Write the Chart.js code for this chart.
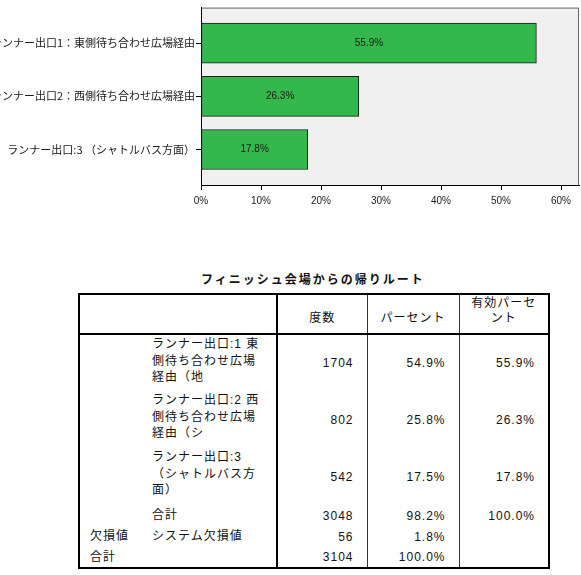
<!DOCTYPE html>
<html>
<head>
<meta charset="utf-8">
<script src="https://cdn.jsdelivr.net/npm/chart.js@4/dist/chart.umd.min.js"></script>
<style>
  body { margin: 0; background: #fff; width: 581px; height: 575px; position: relative; overflow: hidden; }
  #chartBox { position: absolute; left: 0; top: 0; width: 581px; height: 215px; }
  #title { position: absolute; left: 78px; top: 270px; width: 470px; text-align: center;
    font: bold 12px "Liberation Sans", "Noto Sans CJK JP", sans-serif; letter-spacing: 2px; color: #111; }
  table { position: absolute; left: 78px; top: 293px; border-collapse: collapse; table-layout: fixed;
    font: 12px "Liberation Sans", "Noto Sans CJK JP", sans-serif; letter-spacing: 1px; color: #111;
    border: 2px solid #000; }
  td, th { padding: 0; font-weight: normal; box-sizing: border-box; }
  th { vertical-align: bottom; text-align: center; padding-bottom: 7px; line-height: 15px; }
  .head th { height: 40px; border-bottom: 2px solid #000; }
  .sep { border-right: 2px solid #000; }
  .thin { border-right: 1px solid #333; }
  td.lab { vertical-align: top; padding-left: 6px; padding-top: 1px; line-height: 16.5px; }
  td.grp { vertical-align: top; padding-left: 10px; padding-top: 1px; line-height: 16.5px; }
  td.num { text-align: right; padding-right: 13px; vertical-align: middle; }
  tr.big td { height: 57px; }
  tr.small td { height: 21px; padding-top: 0; line-height: 20px; }
</style>
</head>
<body>
<div id="chartBox"><canvas id="myChart"></canvas></div>
<div id="title"></div>
<table id="freq"></table>
<script>
// chart data
const categories = [
  'ランナー出口1：東側待ち合わせ広場経由',
  'ランナー出口2：西側待ち合わせ広場経由',
  'ランナー出口:3 （シャトルバス方面）'
];
const validPercent = [55.9, 26.3, 17.8];
const xTicks = [0, 10, 20, 30, 40, 50, 60];

// table data
const tableTitle = 'フィニッシュ会場からの帰りルート';
const headers = ['度数', 'パーセント', '有効パーセ<br>ント'];
const groupLabels = ['', '', '', '', '欠損値', '合計'];
const rowLabels = [
  'ランナー出口:1 東<br>側待ち合わせ広場<br>経由（地',
  'ランナー出口:2 西<br>側待ち合わせ広場<br>経由（シ',
  'ランナー出口:3<br>（シャトルバス方<br>面）',
  '合計',
  'システム欠損値',
  ''
];
const counts = ['1704', '802', '542', '3048', '56', '3104'];
const percents = ['54.9%', '25.8%', '17.5%', '98.2%', '1.8%', '100.0%'];
const validPercents = ['55.9%', '26.3%', '17.8%', '100.0%', '', ''];

// build table
document.getElementById('title').textContent = tableTitle;
let html = '<colgroup><col style="width:67px"><col style="width:131px"><col style="width:90px"><col style="width:92px"><col style="width:90px"></colgroup>';
html += '<tr class="head"><th></th><th class="sep"></th>' +
  '<th class="thin">' + headers[0] + '</th><th class="thin">' + headers[1] + '</th><th>' + headers[2] + '</th></tr>';
rowLabels.forEach((lab, i) => {
  const cls = i < 3 ? 'big' : 'small';
  html += '<tr class="' + cls + '"><td class="grp">' + groupLabels[i] + '</td>' +
    '<td class="lab sep">' + lab + '</td>' +
    '<td class="num thin">' + counts[i] + '</td>' +
    '<td class="num thin">' + percents[i] + '</td>' +
    '<td class="num">' + validPercents[i] + '</td></tr>';
});
document.getElementById('freq').innerHTML = html;

// plot frame + background
const framePlugin = {
  id: 'frame',
  beforeDraw(chart) {
    const a = chart.chartArea, ctx = chart.ctx;
    ctx.save();
    ctx.fillStyle = '#f0f0f0';
    ctx.fillRect(a.left, a.top, a.right - a.left, a.bottom - a.top);
    ctx.strokeStyle = '#666';
    ctx.lineWidth = 1;
    ctx.strokeRect(a.left + 0.5, a.top + 0.5, a.right - a.left - 1, a.bottom - a.top);
    ctx.restore();
  }
};

// value labels inside bars
const barLabels = {
  id: 'barLabels',
  afterDatasetsDraw(chart) {
    const ctx = chart.ctx;
    const meta = chart.getDatasetMeta(0);
    ctx.save();
    ctx.font = '10px "Liberation Sans", sans-serif';
    ctx.fillStyle = '#1a1a1a';
    ctx.textAlign = 'center';
    ctx.textBaseline = 'middle';
    meta.data.forEach((bar, i) => {
      ctx.fillText(validPercent[i].toFixed(1) + '%', (bar.x + bar.base) / 2, bar.y);
    });
    ctx.restore();
  }
};

const ctx = document.getElementById('myChart').getContext('2d');
new Chart(ctx, {
  type: 'bar',
  data: {
    datasets: [{
      data: validPercent.map((v, i) => ({ x: v, y: i })),
      backgroundColor: '#35b84b',
      borderColor: '#1a1a1a',
      borderWidth: 1,
      borderSkipped: false,
      barThickness: 40
    }]
  },
  options: {
    indexAxis: 'y',
    responsive: true,
    maintainAspectRatio: false,
    animation: false,
    layout: { padding: { top: 6, right: 2, left: 0, bottom: 0 } },
    plugins: { legend: { display: false }, tooltip: { enabled: false } },
    scales: {
      x: {
        type: 'linear',
        min: 0,
        max: 63,
        afterFit(scale) { scale.height = 30; },
        afterBuildTicks(scale) { scale.ticks = xTicks.map(v => ({ value: v })); },
        ticks: {
          callback: v => v + '%',
          color: '#1a1a1a',
          font: { size: 10, family: '"Liberation Sans", sans-serif' },
          padding: 5
        },
        grid: { drawOnChartArea: false, drawTicks: true, tickLength: 5, color: '#000' },
        border: { color: '#000', width: 1 }
      },
      y: {
        type: 'linear',
        offset: false,
        min: -2 / 3,
        max: 2 + 2 / 3,
        reverse: true,
        afterFit(scale) { scale.width = 201; },
        afterBuildTicks(scale) { scale.ticks = categories.map((c, i) => ({ value: i })); },
        ticks: {
          callback: v => categories[v],
          color: '#1a1a1a',
          font: { size: 11, family: '"Noto Sans CJK JP", sans-serif' },
          padding: 1
        },
        grid: { offset: false, drawOnChartArea: false, drawTicks: true, tickLength: 5, color: '#000' },
        border: { color: '#000', width: 1 }
      }
    }
  },
  plugins: [framePlugin, barLabels]
});
</script>
</body>
</html>
